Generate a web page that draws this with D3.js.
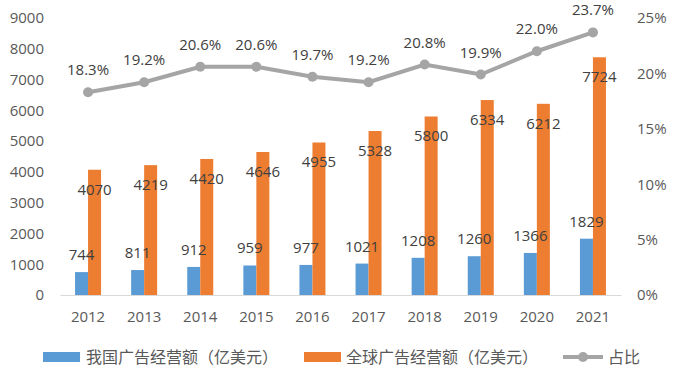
<!DOCTYPE html>
<html>
<head>
<meta charset="utf-8">
<script src="https://cdn.jsdelivr.net/npm/d3@7"></script>
<style>
  body { margin: 0; background: #fff; }
  text { font-family: "Open Sans", "Noto Sans CJK SC", sans-serif; }
</style>
</head>
<body>
<div id="chart"></div>
<script>
const years = ["2012", "2013", "2014", "2015", "2016", "2017", "2018", "2019", "2020", "2021"];
const china = [744, 811, 912, 959, 977, 1021, 1208, 1260, 1366, 1829];
const world = [4070, 4219, 4420, 4646, 4955, 5328, 5800, 6334, 6212, 7724];
const share = [18.3, 19.2, 20.6, 20.6, 19.7, 19.2, 20.8, 19.9, 22.0, 23.7];
const leftTicks = [0, 1000, 2000, 3000, 4000, 5000, 6000, 7000, 8000, 9000];
const rightTicks = [0, 5, 10, 15, 20, 25];
const seriesNames = ["我国广告经营额（亿美元）", "全球广告经营额（亿美元）", "占比"];

const W = 676, H = 376;
const margin = {top: 18, right: 55, bottom: 81, left: 60};
const width = W - margin.left - margin.right;
const height = H - margin.top - margin.bottom;
const blue = "#5b9bd5", orange = "#ed7d31", gray = "#a5a5a5";

const svg = d3.select("#chart").append("svg")
    .attr("width", W).attr("height", H)
    .append("g")
    .attr("transform", `translate(${margin.left},${margin.top})`);

const x = d3.scaleBand().domain(years).range([0, width]);
const y = d3.scaleLinear().domain([0, 9000]).range([height, 0]);
const y2 = d3.scaleLinear().domain([0, 25]).range([height, 0]);
const barW = 13;

// axes
const leftAxis = svg.append("g")
    .call(d3.axisLeft(y).tickValues(leftTicks).tickFormat(d3.format("d")).tickSize(0).tickPadding(16));
leftAxis.select(".domain").remove();
leftAxis.selectAll("text").attr("fill", "#595959").attr("font-size", 15);

const rightAxis = svg.append("g")
    .attr("transform", `translate(${width},0)`)
    .call(d3.axisRight(y2).tickValues(rightTicks).tickFormat(d => d + "%").tickSize(0).tickPadding(16));
rightAxis.select(".domain").remove();
rightAxis.selectAll("text").attr("fill", "#595959").attr("font-size", 15);

const bottomAxis = svg.append("g")
    .attr("transform", `translate(0,${height})`)
    .call(d3.axisBottom(x).tickSize(0).tickPadding(16));
bottomAxis.select(".domain").attr("stroke", "#d9d9d9");
bottomAxis.selectAll("text").attr("fill", "#595959").attr("font-size", 15);

// bars
svg.selectAll(".bar-china").data(years).enter().append("rect")
    .attr("x", d => x(d) + x.bandwidth() / 2 - barW)
    .attr("y", (d, i) => y(china[i]))
    .attr("width", barW)
    .attr("height", (d, i) => height - y(china[i]))
    .attr("fill", blue);

svg.selectAll(".bar-world").data(years).enter().append("rect")
    .attr("x", d => x(d) + x.bandwidth() / 2)
    .attr("y", (d, i) => y(world[i]))
    .attr("width", barW)
    .attr("height", (d, i) => height - y(world[i]))
    .attr("fill", orange);

// line
const cx = d => x(d) + x.bandwidth() / 2;
const line = d3.line().x(d => cx(d)).y((d, i) => y2(share[i]));
svg.append("path").datum(years)
    .attr("d", line)
    .attr("fill", "none")
    .attr("stroke", gray)
    .attr("stroke-width", 4);
svg.selectAll(".pt").data(years).enter().append("circle")
    .attr("cx", cx)
    .attr("cy", (d, i) => y2(share[i]))
    .attr("r", 5)
    .attr("fill", gray);

// labels
const lab = svg.append("g").attr("font-size", 15).attr("fill", "#404040").attr("text-anchor", "middle");
lab.selectAll(".lc").data(years).enter().append("text")
    .attr("x", d => cx(d) - barW / 2)
    .attr("y", (d, i) => y(china[i]) - 12)
    .text((d, i) => china[i]);
lab.selectAll(".lw").data(years).enter().append("text")
    .attr("x", d => cx(d) + barW / 2)
    .attr("y", (d, i) => y(world[i]) + 25)
    .text((d, i) => world[i]);
lab.selectAll(".ls").data(years).enter().append("text")
    .attr("x", cx)
    .attr("y", (d, i) => y2(share[i]) - 17)
    .text((d, i) => share[i].toFixed(1) + "%");

// legend
const leg = d3.select("#chart svg").append("g")
    .attr("font-size", 16).attr("fill", "#595959");
const ly = 357;
leg.append("rect").attr("x", 43).attr("y", ly - 5).attr("width", 37).attr("height", 10).attr("fill", blue);
leg.append("text").attr("x", 86).attr("y", ly).attr("dy", "0.35em").text(seriesNames[0]);
leg.append("rect").attr("x", 304).attr("y", ly - 5).attr("width", 37).attr("height", 10).attr("fill", orange);
leg.append("text").attr("x", 346).attr("y", ly).attr("dy", "0.35em").text(seriesNames[1]);
leg.append("line").attr("x1", 563).attr("x2", 603).attr("y1", ly).attr("y2", ly)
    .attr("stroke", gray).attr("stroke-width", 4);
leg.append("circle").attr("cx", 583).attr("cy", ly).attr("r", 5).attr("fill", gray);
leg.append("text").attr("x", 608).attr("y", ly).attr("dy", "0.35em").text(seriesNames[2]);
</script>
</body>
</html>
